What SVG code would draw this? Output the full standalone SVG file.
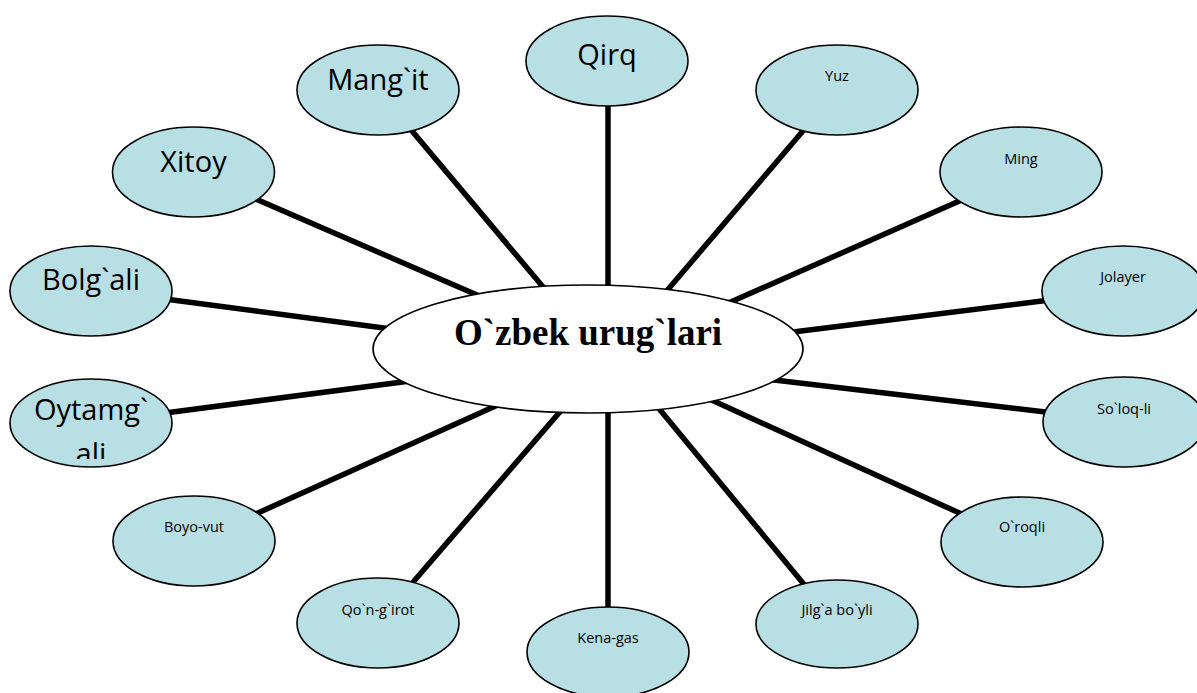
<svg xmlns="http://www.w3.org/2000/svg" width="1197" height="693" viewBox="0 0 1197 693">
<style>
.bg{fill:#ffffff}
.conn line{stroke:#000;stroke-width:5.5;stroke-linecap:butt}
.node ellipse{fill:#b8dfe3;stroke:#000;stroke-width:1.6}
.big{font-family:"Open Sans","Noto Sans",sans-serif;font-size:29px;fill:#000;text-anchor:middle}
.small{font-family:"Open Sans","Noto Sans",sans-serif;font-size:14.5px;fill:#000;text-anchor:middle}
.center ellipse{fill:#fff;stroke:#000;stroke-width:1.6}
.title{font-family:"Liberation Serif","Times New Roman",serif;font-weight:bold;font-size:37px;fill:#000;text-anchor:middle}
</style>
<defs>
<clipPath id="clipOyt"><rect x="0" y="370" width="200" height="89"/></clipPath>
</defs>
<rect class="bg" x="0" y="0" width="1197" height="693"/>
<g id="connectors" class="conn">
<line x1="608" y1="100" x2="608" y2="295"/>
<line x1="407" y1="125" x2="554" y2="300"/>
<line x1="250" y1="196.5" x2="484" y2="298"/>
<line x1="165" y1="299" x2="395" y2="329.5"/>
<line x1="165" y1="413" x2="410" y2="381"/>
<line x1="250" y1="516.5" x2="500" y2="404"/>
<line x1="408" y1="588" x2="565" y2="406"/>
<line x1="608" y1="612" x2="608" y2="400"/>
<line x1="807" y1="588" x2="656" y2="405"/>
<line x1="965" y1="515.6" x2="705" y2="397"/>
<line x1="1052" y1="412.8" x2="770" y2="379.6"/>
<line x1="1050" y1="300" x2="785" y2="333"/>
<line x1="965" y1="198.5" x2="725" y2="304.6"/>
<line x1="808" y1="125" x2="659" y2="300"/>
</g>
<g id="center" class="center">
<ellipse cx="588" cy="349" rx="215" ry="64"/>
<text class="title" x="588" y="345">O`zbek urug`lari</text>
</g>
<g id="n-qirq" class="node">
<ellipse cx="607" cy="61" rx="81" ry="45"/>
<text class="big" x="607" y="65">Qirq</text>
</g>
<g id="n-mangit" class="node">
<ellipse cx="378" cy="90" rx="81" ry="45"/>
<text class="big" x="378" y="90">Mang`it</text>
</g>
<g id="n-xitoy" class="node">
<ellipse cx="193.5" cy="172" rx="81" ry="45"/>
<text class="big" x="193.5" y="172">Xitoy</text>
</g>
<g id="n-bolgali" class="node">
<ellipse cx="91" cy="291" rx="81" ry="45"/>
<text class="big" x="91" y="290">Bolg`ali</text>
</g>
<g id="n-oytamgali" class="node">
<ellipse cx="91" cy="423" rx="81" ry="44"/>
<g clip-path="url(#clipOyt)">
<text class="big" x="91" y="420">Oytamg`</text>
<text class="big" x="91" y="464">ali</text>
</g>
</g>
<g id="n-boyovut" class="node">
<ellipse cx="194" cy="541" rx="81" ry="45"/>
<text class="small" x="194" y="532">Boyo-vut</text>
</g>
<g id="n-qongirot" class="node">
<ellipse cx="378" cy="623" rx="81" ry="45"/>
<text class="small" x="378" y="615">Qo`n-g`irot</text>
</g>
<g id="n-kenagas" class="node">
<ellipse cx="608" cy="652" rx="81" ry="45"/>
<text class="small" x="608" y="643">Kena-gas</text>
</g>
<g id="n-jilgaboyli" class="node">
<ellipse cx="837" cy="624" rx="81" ry="44"/>
<text class="small" x="837" y="615">Jilg`a bo`yli</text>
</g>
<g id="n-oroqli" class="node">
<ellipse cx="1022" cy="542" rx="81" ry="45"/>
<text class="small" x="1022" y="532">O`roqli</text>
</g>
<g id="n-soloqli" class="node">
<ellipse cx="1124" cy="422" rx="81" ry="45"/>
<text class="small" x="1124" y="414">So`loq-li</text>
</g>
<g id="n-jolayer" class="node">
<ellipse cx="1123" cy="291" rx="81" ry="45"/>
<text class="small" x="1123" y="282">Jolayer</text>
</g>
<g id="n-ming" class="node">
<ellipse cx="1021" cy="172" rx="81" ry="45"/>
<text class="small" x="1021" y="164">Ming</text>
</g>
<g id="n-yuz" class="node">
<ellipse cx="837" cy="90" rx="81" ry="45"/>
<text class="small" x="837" y="81">Yuz</text>
</g>
</svg>
